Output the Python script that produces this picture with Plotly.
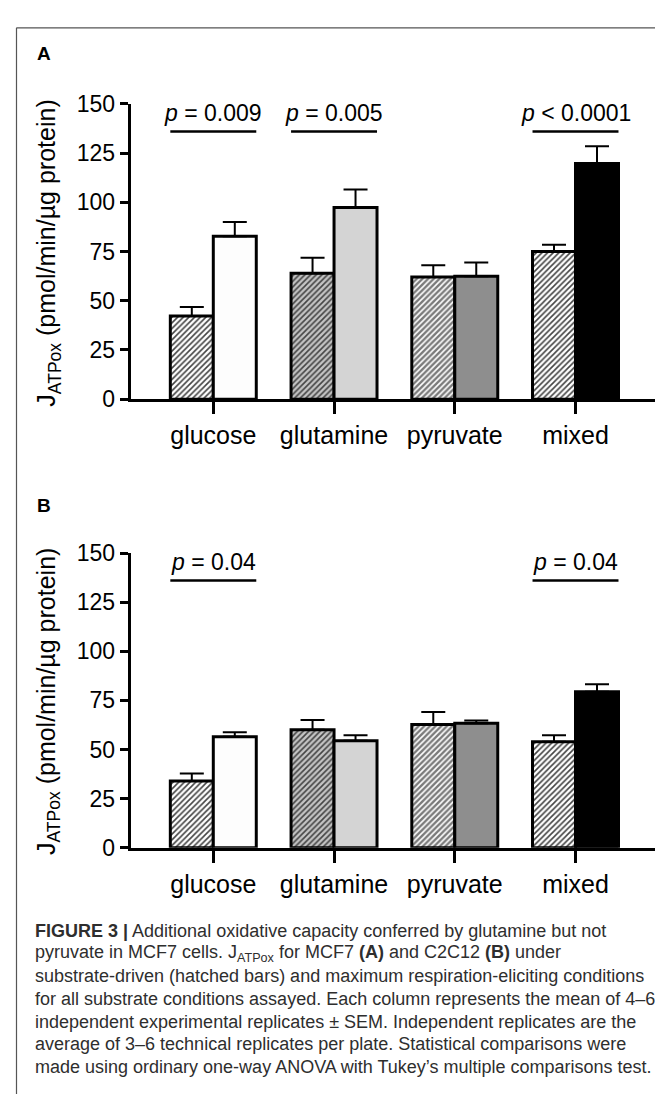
import plotly.graph_objects as go

# ---------------- data ----------------
categories = ["glucose", "glutamine", "pyruvate", "mixed"]

# Panel A (MCF7)
a_substrate = [42.3, 64.0, 62.1, 75.0]
a_substrate_sem = [4.5, 7.8, 5.9, 3.5]
a_max = [82.8, 97.4, 62.5, 119.8]
a_max_sem = [7.2, 9.1, 6.9, 8.7]

# Panel B (C2C12)
b_substrate = [34.0, 60.0, 62.7, 54.0]
b_substrate_sem = [3.8, 5.0, 6.4, 3.2]
b_max = [56.5, 54.4, 63.3, 79.4]
b_max_sem = [2.3, 2.8, 1.5, 3.8]

y_ticks = [0, 25, 50, 75, 100, 125, 150]

a_sig = [("glucose", "<i>p</i> = 0.009"), ("glutamine", "<i>p</i> = 0.005"), ("mixed", "<i>p</i> < 0.0001")]
b_sig = [("glucose", "<i>p</i> = 0.04"), ("mixed", "<i>p</i> = 0.04")]
sig_line_y = 136
sig_text_y = 145.5

caption_lines = [
    "<b>FIGURE 3 |</b> Additional oxidative capacity conferred by glutamine but not",
    "pyruvate in MCF7 cells. J<sub>ATPox</sub> for MCF7 <b>(A)</b> and C2C12 <b>(B)</b> under",
    "substrate-driven (hatched bars) and maximum respiration-eliciting conditions",
    "for all substrate conditions assayed. Each column represents the mean of 4–6",
    "independent experimental replicates ± SEM. Independent replicates are the",
    "average of 3–6 technical replicates per plate. Statistical comparisons were",
    "made using ordinary one-way ANOVA with Tukey’s multiple comparisons test.",
]

# ---------------- styles ----------------
W, H = 663, 1099
FONT = "Liberation Sans, Arial, Helvetica, sans-serif"
hatch_bg = ["#ffffff", "#c4c4c4", "#7a7a7a", "#ffffff"]
solid_col = ["#fdfdfd", "#d4d4d4", "#8e8e8e", "#000000"]


def px(x):
    return x / W


def py(y):
    return 1 - y / H


fig = go.Figure()


def add_panel(sub, subs_vals, subs_sem, max_vals, max_sem):
    xa = "x" if sub == 1 else "x2"
    ya = "y" if sub == 1 else "y2"
    fig.add_trace(go.Bar(
        x=categories, y=subs_vals, xaxis=xa, yaxis=ya,
        marker=dict(
            color=hatch_bg,
            line=dict(color="black", width=3),
            pattern=dict(shape="/", fgcolor="black", fgopacity=1,
                         fillmode="overlay", size=4, solidity=0.4),
        ),
        error_y=dict(type="data", array=subs_sem, arrayminus=[0] * 4,
                     symmetric=False, color="black", thickness=2, width=12),
        showlegend=False,
    ))
    fig.add_trace(go.Bar(
        x=categories, y=max_vals, xaxis=xa, yaxis=ya,
        marker=dict(color=solid_col, line=dict(color="black", width=3)),
        error_y=dict(type="data", array=max_sem, arrayminus=[0] * 4,
                     symmetric=False, color="black", thickness=2, width=12),
        showlegend=False,
    ))


add_panel(1, a_substrate, a_substrate_sem, a_max, a_max_sem)
add_panel(2, b_substrate, b_substrate_sem, b_max, b_max_sem)

bargap = 0.288
half = (1 - bargap) / 2
xr = [-0.685, 3.675]

axis_common_x = dict(
    type="category", range=xr, showline=True, linecolor="black", linewidth=3,
    ticks="outside", ticklen=12, tickwidth=3, tickcolor="black",
    tickfont=dict(family=FONT, size=25, color="black"),
    showgrid=False, zeroline=False, fixedrange=True,
)
axis_common_y = dict(
    range=[0, 150], tickvals=y_ticks, showline=True, linecolor="black",
    linewidth=3, ticks="outside", ticklen=8, tickwidth=3, tickcolor="black",
    tickfont=dict(family=FONT, size=23, color="black"),
    showgrid=False, zeroline=False, fixedrange=True,
)

xdom = [px(122.6), px(649)]
fig.update_layout(
    width=W, height=H,
    margin=dict(l=0, r=0, t=0, b=0),
    paper_bgcolor="white", plot_bgcolor="white",
    barmode="group", bargap=bargap, bargroupgap=0,
    font=dict(family=FONT, color="black"),
    xaxis=dict(domain=xdom, anchor="y", **axis_common_x),
    yaxis=dict(domain=[py(387.3), py(85)], anchor="x", **axis_common_y),
    xaxis2=dict(domain=xdom, anchor="y2", **axis_common_x),
    yaxis2=dict(domain=[py(846.7), py(545)], anchor="x2", **axis_common_y),
)

shapes = []
annotations = []

for (xa, ya, sig) in (("x", "y", a_sig), ("x2", "y2", b_sig)):
    for cat, txt in sig:
        i = categories.index(cat)
        shapes.append(dict(type="line", xref=xa, yref=ya,
                           x0=i - half, x1=i + half, y0=sig_line_y, y1=sig_line_y,
                           line=dict(color="black", width=2.5)))
        annotations.append(dict(xref=xa, yref=ya, x=i, y=sig_text_y, text=txt,
                                showarrow=False, xanchor="center", yanchor="middle",
                                font=dict(family=FONT, size=23, color="black")))

# y-axis titles
ytitle = "J<sub>ATPox</sub> (pmol/min/µg protein)"
for yc in (238.3, 697.5):
    annotations.append(dict(xref="paper", yref="paper", x=px(40), y=py(yc),
                            text=ytitle, textangle=-90, showarrow=False,
                            xanchor="center", yanchor="middle",
                            font=dict(family=FONT, size=25, color="black")))

# panel letters
for lab, yc in (("A", 33.5), ("B", 495.8)):
    annotations.append(dict(xref="paper", yref="paper", x=px(36), y=py(yc),
                            text="<b>%s</b>" % lab, showarrow=False,
                            xanchor="center", yanchor="middle",
                            font=dict(family=FONT, size=19, color="black")))

# caption
for k, line in enumerate(caption_lines):
    annotations.append(dict(xref="paper", yref="paper", x=px(25), y=py(932 + 23.2 * k),
                            text=line, showarrow=False, xanchor="left", yanchor="middle",
                            font=dict(family=FONT, size=18, color="#2e2e2e")))

# frame lines
shapes.append(dict(type="line", xref="paper", yref="paper", x0=px(8.5), x1=1,
                   y0=py(7), y1=py(7), line=dict(color="#555555", width=1.2)))
shapes.append(dict(type="line", xref="paper", yref="paper", x0=px(8.5), x1=px(8.5),
                   y0=py(7), y1=0, line=dict(color="#555555", width=1.2)))

fig.update_layout(shapes=shapes, annotations=annotations)

fig.write_html("out.html", config={"displayModeBar": False})
